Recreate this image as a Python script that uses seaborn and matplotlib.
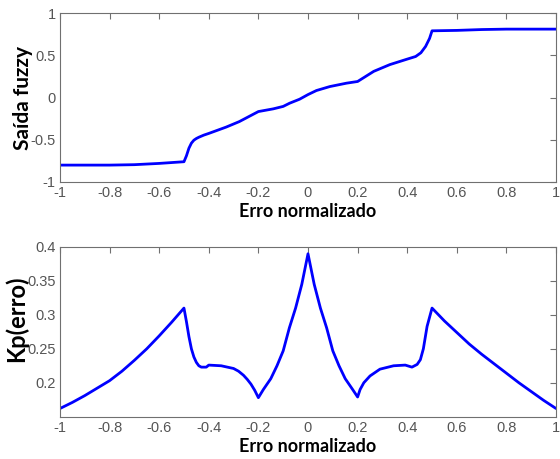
import matplotlib
matplotlib.use("Agg")
import matplotlib.pyplot as plt
import seaborn as sns
import pandas as pd

# Top chart: fuzzy output vs normalized error
x_top = [-1.0, -0.9, -0.8, -0.7, -0.6, -0.5, -0.49, -0.48, -0.47, -0.46, -0.45, -0.44, -0.42,
         -0.4, -0.33, -0.277, -0.2, -0.14, -0.1, -0.074, -0.034, 0.0, 0.034, 0.088, 0.155,
         0.2, 0.265, 0.33, 0.4, 0.434, 0.455, 0.474, 0.49, 0.5, 0.6, 0.7, 0.8, 0.9, 1.0]
y_top = [-0.80, -0.80, -0.80, -0.795, -0.78, -0.76, -0.69, -0.60, -0.54, -0.505, -0.485, -0.47,
         -0.445, -0.425, -0.35, -0.285, -0.166, -0.134, -0.105, -0.067, -0.02, 0.035, 0.083,
         0.13, 0.17, 0.19, 0.31, 0.39, 0.455, 0.486, 0.53, 0.605, 0.70, 0.79, 0.795, 0.805,
         0.81, 0.81, 0.81]

# Bottom chart: Kp vs normalized error
x_bot = [-1.0, -0.95, -0.9, -0.85, -0.8, -0.75, -0.7, -0.65, -0.6, -0.55, -0.5,
         -0.49, -0.48, -0.47, -0.46, -0.45, -0.44, -0.43, -0.41, -0.40, -0.35, -0.30, -0.28,
         -0.26, -0.245, -0.23, -0.215, -0.20, -0.18, -0.15, -0.125, -0.1, -0.075, -0.05,
         -0.025, 0.0, 0.025, 0.05, 0.075, 0.1, 0.125, 0.15, 0.18, 0.20, 0.21, 0.225, 0.25,
         0.29, 0.345, 0.392, 0.419, 0.44, 0.453, 0.465, 0.48, 0.5, 0.55, 0.6, 0.65, 0.7,
         0.75, 0.8, 0.85, 0.9, 0.95, 1.0]
y_bot = [0.162, 0.171, 0.181, 0.192, 0.203, 0.217, 0.233, 0.250, 0.269, 0.289, 0.310,
         0.290, 0.268, 0.250, 0.238, 0.230, 0.225, 0.223, 0.223, 0.226, 0.225, 0.221, 0.217,
         0.211, 0.205, 0.198, 0.189, 0.178, 0.190, 0.206, 0.225, 0.247, 0.281, 0.310,
         0.345, 0.390, 0.345, 0.310, 0.281, 0.247, 0.225, 0.206, 0.190, 0.179, 0.190, 0.200,
         0.210, 0.220, 0.225, 0.226, 0.223, 0.227, 0.234, 0.250, 0.283, 0.310, 0.291, 0.274,
         0.257, 0.242, 0.228, 0.214, 0.200, 0.187, 0.174, 0.162]

x_ticks = [-1, -0.8, -0.6, -0.4, -0.2, 0, 0.2, 0.4, 0.6, 0.8, 1]
x_ticklabels = ["-1", "-0.8", "-0.6", "-0.4", "-0.2", "0", "0.2", "0.4", "0.6", "0.8", "1"]
top_yticks = [-1, -0.5, 0, 0.5, 1]
top_yticklabels = ["-1", "-0.5", "0", "0.5", "1"]
bot_yticks = [0.2, 0.25, 0.3, 0.35, 0.4]
bot_yticklabels = ["0.2", "0.25", "0.3", "0.35", "0.4"]

xlabel = "Erro normalizado"
ylabel_top = "Saída fuzzy"
ylabel_bot = "Kp(erro)"

sns.set_theme(style="white")
plt.rcParams["font.family"] = ["Liberation Sans", "DejaVu Sans"]

fig = plt.figure(figsize=(5.6, 4.59), dpi=100)
ax1 = fig.add_axes([0.107, 0.6035, 0.886, 0.368])
ax2 = fig.add_axes([0.107, 0.0922, 0.886, 0.3697])

df_top = pd.DataFrame({"x": x_top, "y": y_top})
df_bot = pd.DataFrame({"x": x_bot, "y": y_bot})
sns.lineplot(data=df_top, x="x", y="y", ax=ax1, color="#0000ff", linewidth=2.0, sort=False)
sns.lineplot(data=df_bot, x="x", y="y", ax=ax2, color="#0000ff", linewidth=2.0, sort=False)

grey = "#707070"
label_font = dict(family=["Lato", "DejaVu Sans"], weight="bold", color="black")
for ax, yt, ytl, ylim in [(ax1, top_yticks, top_yticklabels, (-1, 1)),
                          (ax2, bot_yticks, bot_yticklabels, (0.15, 0.4))]:
    ax.set_xlim(-1, 1)
    ax.set_ylim(*ylim)
    ax.set_xticks(x_ticks)
    ax.set_xticklabels(x_ticklabels)
    ax.set_yticks(yt)
    ax.set_yticklabels(ytl)
    ax.tick_params(axis="both", direction="in", length=4, width=0.8, colors=grey,
                   labelsize=10.5, labelcolor="#555555", top=True, right=True, pad=3)
    for s in ax.spines.values():
        s.set_color(grey)
        s.set_linewidth(0.8)
        s.set_visible(True)
    ax.set_xlabel(xlabel, fontsize=13, labelpad=2, **label_font)

ax1.set_ylabel(ylabel_top, fontsize=15, **label_font)
ax2.set_ylabel(ylabel_bot, fontsize=17, **label_font)
ax1.yaxis.set_label_coords(-0.055, 0.5)
ax2.yaxis.set_label_coords(-0.064, 0.577)

fig.savefig("out.png", dpi=100, facecolor="white")
